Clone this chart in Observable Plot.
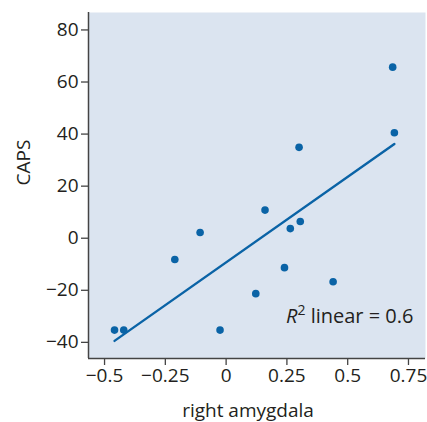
<!DOCTYPE html>
<html>
<head>
<meta charset="utf-8">
<script src="https://cdn.jsdelivr.net/npm/d3@7"></script>
<script src="https://cdn.jsdelivr.net/npm/@observablehq/plot@0.6"></script>
<style>
  html, body { margin: 0; padding: 0; background: #fff; }
  #chart svg { display: block; }
</style>
</head>
<body>
<div id="chart"></div>
<script>
// Data
const amygdala = [-0.459, -0.421, -0.211, -0.107, -0.025, 0.122, 0.160, 0.240, 0.264, 0.305, 0.440, 0.300, 0.685, 0.692];
const caps     = [-35.3, -35.3, -8.2, 2.2, -35.3, -21.3, 10.8, -11.3, 3.7, 6.4, -16.7, 34.9, 65.7, 40.5];
const xTicks = [-0.5, -0.25, 0, 0.25, 0.5, 0.75];
const yTicks = [-40, -20, 0, 20, 40, 60, 80];
const xLabel = "right amygdala";
const yLabel = "CAPS";
const annotation = ["R", "2", " linear = 0.6"];

const points = amygdala.map((x, i) => ({x, y: caps[i]}));

const blue = "#0a63a6";
const ink = "#231f20";
const fmt = d => String(d).replace("-", "\u2212");

const chart = Plot.plot({
  width: 427,
  height: 422,
  marginLeft: 88,
  marginRight: 2,
  marginTop: 12,
  marginBottom: 64,
  style: {fontFamily: "'Open Sans', sans-serif", fontSize: "19px", color: ink, background: "#fff"},
  x: {domain: [-0.566, 0.82]},
  y: {domain: [-46.2, 86.7]},
  marks: [
    Plot.frame({fill: "#dbe4f0", stroke: null}),
    Plot.axisX(xTicks, {tickSize: 7, tickPadding: 3, tickFormat: fmt, label: null, stroke: "#444", strokeWidth: 1.3, fontSize: 19, fill: ink}),
    Plot.axisY(yTicks, {tickSize: 7, tickPadding: 3, tickFormat: fmt, label: null, stroke: "#444", strokeWidth: 1.3, fontSize: 19, fill: ink}),
    Plot.ruleX([-0.566], {stroke: "#444", strokeWidth: 1.5}),
    Plot.ruleY([-46.2], {stroke: "#444", strokeWidth: 1.5}),
    Plot.linearRegressionY(points, {x: "x", y: "y", ci: 0, stroke: blue, strokeWidth: 2.4}),
    Plot.dot(points, {x: "x", y: "y", r: 3.8, fill: blue, stroke: null}),
    Plot.text([xLabel], {frameAnchor: "bottom", dy: 52, dx: -9, fontSize: 19, fill: ink, lineAnchor: "middle"}),
    Plot.text([yLabel], {frameAnchor: "left", dx: -65, rotate: -90, fontSize: 19, fill: ink}),
    Plot.text([annotation.join("")], {frameAnchor: "bottom-right", dx: -12, dy: -36, textAnchor: "end", fontSize: 20, fill: ink, className: "r2note"})
  ]
});

document.getElementById("chart").appendChild(chart);

// Format the R² annotation: italic R with superscript 2
const note = chart.querySelector(".r2note text");
if (note) {
  note.textContent = "";
  const ns = "http://www.w3.org/2000/svg";
  const t1 = document.createElementNS(ns, "tspan");
  t1.setAttribute("font-style", "italic");
  t1.textContent = annotation[0];
  const t2 = document.createElementNS(ns, "tspan");
  t2.setAttribute("font-size", "14");
  t2.setAttribute("dy", "-8");
  t2.textContent = annotation[1];
  const t3 = document.createElementNS(ns, "tspan");
  t3.setAttribute("dy", "8");
  t3.textContent = annotation[2];
  note.appendChild(t1); note.appendChild(t2); note.appendChild(t3);
}
</script>
</body>
</html>
